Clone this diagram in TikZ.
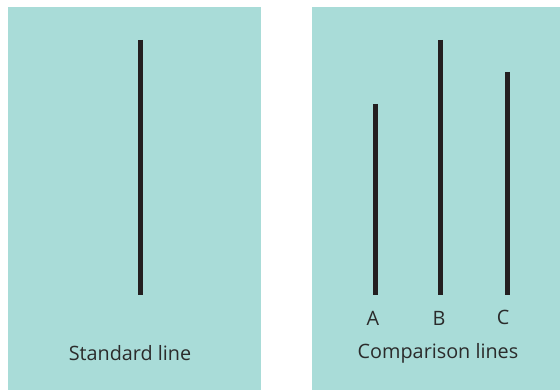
\documentclass[tikz,border=0pt]{standalone}
\usepackage{fontspec}
\setmainfont{Open Sans}
\definecolor{panel}{HTML}{A9DCD8}
\definecolor{ink}{HTML}{231F20}
\definecolor{txt}{HTML}{2B2B2B}
\begin{document}
\begin{tikzpicture}[x=1pt,y=-1pt,
  panelbox/.style={fill=panel,draw=none},
  bar/.style={draw=ink,line width=5pt},
  lbl/.style={text=txt,font=\fontsize{19.8}{23}\selectfont,inner sep=0pt}]
\useasboundingbox (0,0) rectangle (560,390);
\fill[panel] (8,7) rectangle (261,390);
\fill[panel] (312,7) rectangle (560,390);
\coordinate (s1) at (140,40); \coordinate (s2) at (140,295);
\coordinate (a1) at (375,104); \coordinate (a2) at (375,295);
\coordinate (b1) at (440,40); \coordinate (b2) at (440,295);
\coordinate (c1) at (507,72); \coordinate (c2) at (507,295);
\draw[bar] (s1) -- (s2);
\draw[bar] (a1) -- (a2);
\draw[bar] (b1) -- (b2);
\draw[bar] (c1) -- (c2);
\node[lbl] (la) at (373,318) {A};
\node[lbl] (lb) at (439,318) {B};
\node[lbl] (lc) at (503,317) {C};
\node[lbl] (ls) at (130,353) {Standard line};
\node[lbl] (lcmp) at (438,353) {Comparison lines};
\end{tikzpicture}
\end{document}
